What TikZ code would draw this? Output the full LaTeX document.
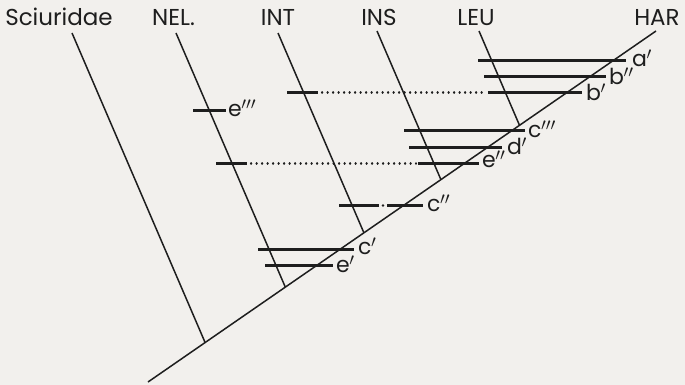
\documentclass[tikz,border=0pt]{standalone}
\usepackage{fontspec}
\setmainfont{Poppins}
\usetikzlibrary{calc}
\definecolor{bg}{RGB}{242,240,237}
\definecolor{ink}{RGB}{30,30,30}
\newcommand{\pz}[1]{\kern-0.5pt\raisebox{-2pt}{\scalebox{1.2}{$^{#1}$}}}
\begin{document}
\begin{tikzpicture}[x=1pt,y=-1pt,
  branchline/.style={line width=1.5pt, draw=ink},
  barline/.style={line width=3pt, draw=ink},
  dotline/.style={line width=2.2pt, draw=ink, line cap=round, dash pattern=on 0.2pt off 5.3pt},
  lbl/.style={anchor=base west, inner sep=0pt, text=ink, font=\fontsize{22}{26}\selectfont},
  hdr/.style={anchor=base, inner sep=0pt, text=ink, font=\fontsize{23}{26}\selectfont}]
\fill[bg] (0,0) rectangle (685,385);
\useasboundingbox (0,0) rectangle (685,385);
% header labels
\node[hdr] (hsci) at (59,26) {Sciuridae};
\node[hdr] (hnel) at (173.5,26) {NEL.};
\node[hdr] (hint) at (278,26) {INT};
\node[hdr] (hins) at (379,26) {INS};
\node[hdr] (hleu) at (476,26) {LEU};
\node[hdr] (hhar) at (657,26) {HAR};
% trunk and branches
\coordinate (root) at (148,382);
\coordinate (thar) at (656,31);
\coordinate (tsci) at (72,33);
\coordinate (tnel) at (176,33);
\coordinate (tint) at (278,33);
\coordinate (tins) at (377,31);
\coordinate (tleu) at (479,31);
\coordinate (jsci) at (205.1,342.5);
\coordinate (jnel) at (285.3,287.1);
\coordinate (jint) at (363.9,232.8);
\coordinate (jins) at (440.9,179.6);
\coordinate (jleu) at (519.5,125.3);
\draw[branchline] (root) -- (thar);
\draw[branchline] (tsci) -- (jsci);
\draw[branchline] (tnel) -- (jnel);
\draw[branchline] (tint) -- (jint);
\draw[branchline] (tins) -- (jins);
\draw[branchline] (tleu) -- (jleu);
% bars
\coordinate (a1) at (478,60.5);   \coordinate (a2) at (626,60.5);
\coordinate (bb1) at (484,76.5); \coordinate (bb2) at (606,76.5);
\coordinate (b1) at (488,92.5); \coordinate (b2) at (582,92.5);
\coordinate (bi1) at (287,92.5); \coordinate (bi2) at (318,92.5);
\coordinate (e3a) at (193,110.5); \coordinate (e3b) at (226,110.5);
\coordinate (c3a) at (404,130.5); \coordinate (c3b) at (525,130.5);
\coordinate (d1) at (409,147.5); \coordinate (d2) at (502,147.5);
\coordinate (e2a) at (418,163.5); \coordinate (e2b) at (479,163.5);
\coordinate (en1) at (216,163.5); \coordinate (en2) at (247,163.5);
\coordinate (c2a) at (339,205.5); \coordinate (c2b) at (379,205.5);
\coordinate (c2c) at (387,205.5); \coordinate (c2d) at (423,205.5);
\coordinate (c2dot) at (383,205.5);
\coordinate (c1a) at (258,249.5); \coordinate (c1b) at (354,249.5);
\coordinate (e1a) at (265,265.5); \coordinate (e1b) at (333,265.5);
\draw[barline] (a1) -- (a2);
\draw[barline] (bb1) -- (bb2);
\draw[barline] (b1) -- (b2);
\draw[barline] (bi1) -- (bi2);
\draw[dotline] ($(bi2)+(4,0)$) -- ($(b1)-(2,0)$);
\draw[barline] (e3a) -- (e3b);
\draw[barline] (c3a) -- (c3b);
\draw[barline] (d1) -- (d2);
\draw[barline] (e2a) -- (e2b);
\draw[barline] (en1) -- (en2);
\draw[dotline] ($(en2)+(4,0)$) -- ($(e2a)-(2,0)$);
\draw[barline] (c2a) -- (c2b);
\draw[barline] (c2c) -- (c2d);
\fill[ink] (c2dot) circle (1.4pt);
\draw[barline] (c1a) -- (c1b);
\draw[barline] (e1a) -- (e1b);
% labels
\node[lbl] (la1) at ($(a2)+(6,6)$) {a\pz{\prime}};
\node[lbl] (lb2) at ($(bb2)+(3,8)$) {b\pz{\prime\prime}};
\node[lbl] (lb1) at ($(b2)+(4,8)$) {b\pz{\prime}};
\node[lbl] (lc3) at ($(c3b)+(3,7)$) {c\pz{\prime\prime\prime}};
\node[lbl] (ld1) at ($(d2)+(5,7)$) {d\pz{\prime}};
\node[lbl] (le2) at ($(e2b)+(3,4)$) {e\pz{\prime\prime}};
\node[lbl] (lc2) at ($(c2d)+(4,6)$) {c\pz{\prime\prime}};
\node[lbl] (lc1) at ($(c1b)+(4,5)$) {c\pz{\prime}};
\node[lbl] (le1) at ($(e1b)+(3,7)$) {e\pz{\prime}};
\node[lbl] (le3) at ($(e3b)+(2,6)$) {e\pz{\prime\prime\prime}};
\end{tikzpicture}
\end{document}
